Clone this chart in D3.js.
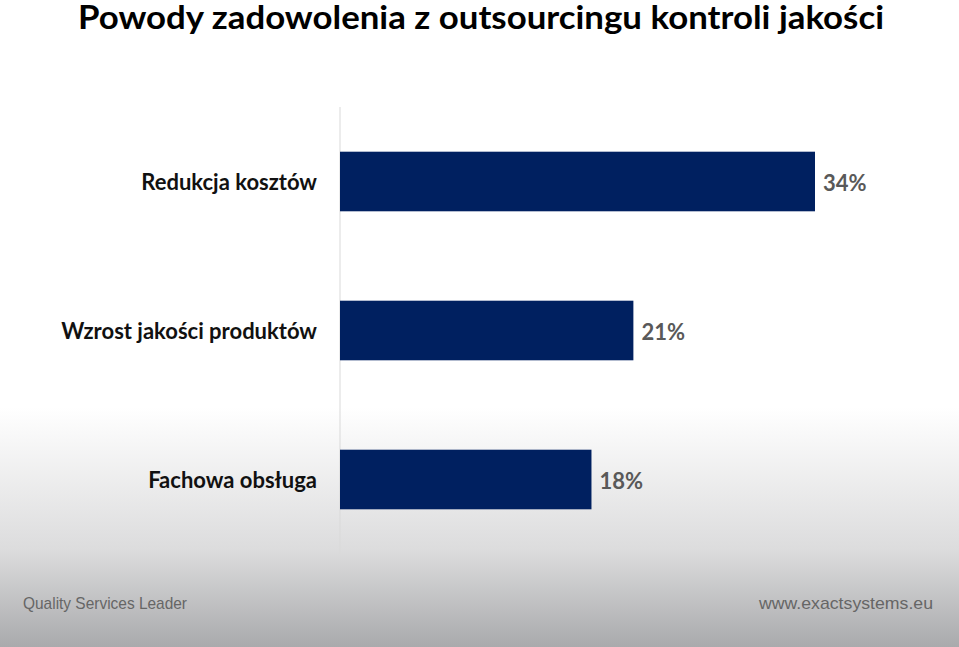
<!DOCTYPE html>
<html><head><meta charset="utf-8">
<script src="https://cdn.jsdelivr.net/npm/d3@7"></script>
<style>body{margin:0;padding:0;overflow:hidden}svg{display:block}</style>
</head><body>
<script>
const categories = ["Redukcja kosztów", "Wzrost jakości produktów", "Fachowa obsługa"];
const values = [34, 21, 18];
const valueLabels = ["34%", "21%", "18%"];
const title = "Powody zadowolenia z outsourcingu kontroli jakości";
const footerLeft = "Quality Services Leader";
const footerRight = "www.exactsystems.eu";

const W = 959, H = 647;
const svg = d3.select("body").append("svg").attr("width", W).attr("height", H);
const defs = svg.append("defs");
const grad = defs.append("linearGradient").attr("id","bg").attr("x1",0).attr("y1",0).attr("x2",0).attr("y2",1);
grad.append("stop").attr("offset","0.63").attr("stop-color","#ffffff");
grad.append("stop").attr("offset","0.85").attr("stop-color","#dcdcdd");
grad.append("stop").attr("offset","1").attr("stop-color","#a9aaac");
svg.append("rect").attr("width",W).attr("height",H).attr("fill","url(#bg)");

svg.append("text").attr("x",78).attr("y",29).text(title)
  .attr("font-family","Lato, 'Open Sans', sans-serif").attr("font-weight","bold")
  .attr("font-size",33).attr("fill","#000").attr("textLength",806).attr("lengthAdjust","spacingAndGlyphs");

const x0 = 340;
const x = d3.scaleLinear().domain([0, 34]).range([x0, 815]);
const y = d3.scaleBand().domain(categories).range([107, 554]).paddingInner(0.6).paddingOuter(0.3);

svg.append("line").attr("x1",x0).attr("x2",x0).attr("y1",107).attr("y2",554)
  .attr("stroke","#d9d9d9").attr("stroke-width",1);

const g = svg.append("g");
g.selectAll("rect.bar").data(categories).join("rect").attr("class","bar")
  .attr("x", x(0)).attr("y", d => y(d)).attr("width", (d,i) => x(values[i]) - x(0))
  .attr("height", y.bandwidth()).attr("fill", "#002060");

g.selectAll("text.cat").data(categories).join("text").attr("class","cat")
  .attr("x", 317).attr("y", d => y(d) + y.bandwidth()/2 + 8)
  .attr("text-anchor","end").text(d => d)
  .attr("font-family","Lato, 'Open Sans', sans-serif").attr("font-weight","bold")
  .attr("font-size",22).attr("fill","#111");

g.selectAll("text.val").data(categories).join("text").attr("class","val")
  .attr("x", (d,i) => x(values[i]) + 8).attr("y", d => y(d) + y.bandwidth()/2 + 9)
  .text((d,i) => valueLabels[i])
  .attr("font-family","Lato, 'Open Sans', sans-serif").attr("font-weight","bold")
  .attr("font-size",22).attr("fill","#595959");

svg.append("text").attr("x",23).attr("y",609).text(footerLeft)
  .attr("font-family","'Liberation Sans Narrow', 'Liberation Sans', sans-serif")
  .attr("font-size",17).attr("fill","#666").attr("textLength",164).attr("lengthAdjust","spacingAndGlyphs");
svg.append("text").attr("x",933).attr("y",609).attr("text-anchor","end").text(footerRight)
  .attr("font-family","'Liberation Sans Narrow', 'Liberation Sans', sans-serif")
  .attr("font-size",17).attr("fill","#666").attr("textLength",174).attr("lengthAdjust","spacingAndGlyphs");
</script>
</body></html>
